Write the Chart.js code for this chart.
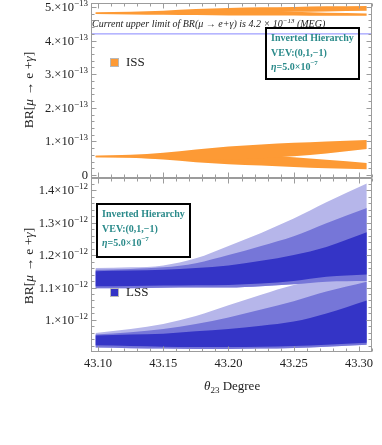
<!DOCTYPE html>
<html>
<head>
<meta charset="utf-8">
<script src="https://cdn.jsdelivr.net/npm/chart.js@4.4.0/dist/chart.umd.min.js"></script>
<style>
    html, body { margin: 0; padding: 0; background: #fff; }
    #wrap { position: relative; width: 382px; height: 445px; }
    canvas { position: absolute; left: 0; top: 0; }
</style>
</head>
<body>
<div id="wrap">
    <canvas id="issChart" width="382" height="445"></canvas>
    <canvas id="lssChart" width="382" height="445"></canvas>
</div>
<script>
// theta_23 sample points (degrees) where the band edges were read
const thetaGrid = [43.098, 43.125, 43.15, 43.175, 43.20, 43.225, 43.25, 43.275, 43.306];

// ISS, BR in units of 1e-13
const issTopUpperHi = [4.84, 4.86, 4.89, 4.94, 4.97, 4.99, 5.00, 5.02, 5.03];
const issTopUpperLo = [4.80, 4.80, 4.80, 4.82, 4.84, 4.85, 4.86, 4.87, 4.89];
const issTopLowerHi = [4.84, 4.84, 4.84, 4.86, 4.88, 4.88, 4.86, 4.83, 4.81];
const issTopLowerLo = [4.79, 4.78, 4.77, 4.76, 4.75, 4.75, 4.75, 4.74, 4.74];
const issLowUpperHi = [0.57, 0.60, 0.66, 0.76, 0.85, 0.91, 0.96, 1.00, 1.04];
const issLowUpperLo = [0.53, 0.52, 0.48, 0.45, 0.46, 0.50, 0.56, 0.64, 0.77];
const issLowLowerHi = [0.57, 0.57, 0.58, 0.60, 0.60, 0.58, 0.53, 0.45, 0.36];
const issLowLowerLo = [0.53, 0.51, 0.46, 0.38, 0.32, 0.28, 0.24, 0.20, 0.17];
const megLimit = 4.2;

// LSS, BR in units of 1e-12
const lssUpperCoreHi  = [1.150, 1.152, 1.155, 1.160, 1.168, 1.182, 1.200, 1.225, 1.270];
const lssUpperCoreLo  = [1.104, 1.105, 1.106, 1.107, 1.108, 1.112, 1.120, 1.133, 1.140];
const lssUpperMidHi   = [1.155, 1.157, 1.162, 1.175, 1.200, 1.228, 1.258, 1.298, 1.345];
const lssUpperCloudHi = [1.160, 1.162, 1.168, 1.190, 1.228, 1.268, 1.312, 1.362, 1.420];
const lssUpperCloudLo = [1.098, 1.098, 1.099, 1.100, 1.100, 1.104, 1.110, 1.118, 1.120];
const lssLowerCoreHi  = [0.952, 0.955, 0.958, 0.965, 0.972, 0.982, 0.995, 1.020, 1.060];
const lssLowerCoreLo  = [0.922, 0.920, 0.918, 0.917, 0.917, 0.918, 0.920, 0.924, 0.930];
const lssLowerMidHi   = [0.955, 0.962, 0.972, 0.988, 1.008, 1.032, 1.058, 1.088, 1.118];
const lssLowerCloudHi = [0.960, 0.972, 0.988, 1.012, 1.045, 1.078, 1.108, 1.126, 1.140];
const lssLowerCloudLo = [0.915, 0.913, 0.912, 0.911, 0.911, 0.912, 0.914, 0.918, 0.924];

// tick labels
const xTicks = [43.10, 43.15, 43.20, 43.25, 43.30];
const issTicks = [0, 1, 2, 3, 4, 5];
const lssTicks = [1.0, 1.1, 1.2, 1.3, 1.4];

const SERIF = '"Liberation Serif", "DejaVu Serif", serif';
const ORANGE = '#fd9a35';
const BLUE = '#3434c6';
const BLUE_MID = 'rgb(118, 118, 216)';
const BLUE_CLOUD = 'rgb(182, 182, 234)';
const TEAL = '#2a8a8a';
const X_MIN = 43.0946, X_MAX = 43.310;

const pts = (ys) => ys.map((y, i) => ({ x: thetaGrid[i], y }));

const band = (lo, hi, color) => [
    { data: pts(lo), borderWidth: 0, borderColor: 'transparent', pointRadius: 0, fill: false, cubicInterpolationMode: 'monotone' },
    { data: pts(hi), borderWidth: 0, borderColor: 'transparent', pointRadius: 0, fill: '-1', backgroundColor: color, cubicInterpolationMode: 'monotone' },
];

// text in several runs (italic greek, superscripts...)
function runsWidth(ctx, runs) {
    let w = 0;
    runs.forEach(r => { ctx.font = r.font; w += ctx.measureText(r.t).width; });
    return w;
}
function drawRuns(ctx, runs, x, y) {
    let cx = x;
    runs.forEach(r => {
        ctx.font = r.font;
        ctx.fillText(r.t, cx, y + (r.dy || 0));
        cx += ctx.measureText(r.t).width;
    });
    return cx - x;
}
const f = (size, style = '') => `${style} ${size}px ${SERIF}`;

function sciRuns(mant, exp) {
    return [
        { t: mant + '\u00d710', font: f(12.5) },
        { t: '\u2212' + exp, font: f(9), dy: -5 },
    ];
}

function drawYTitle(ctx, cx, cy) {
    const runs = [
        { t: 'BR[', font: f(13.5) },
        { t: '\u03bc', font: f(13.5, 'italic') },
        { t: ' \u2192 e +', font: f(13.5) },
        { t: '\u03b3', font: f(13.5, 'italic') },
        { t: ']', font: f(13.5) },
    ];
    ctx.save();
    ctx.translate(cx, cy);
    ctx.rotate(-Math.PI / 2);
    drawRuns(ctx, runs, -runsWidth(ctx, runs) / 2, 4.5);
    ctx.restore();
}

function drawInfoBox(ctx, x, y, w, h) {
    ctx.save();
    ctx.strokeStyle = '#000';
    ctx.lineWidth = 2;
    ctx.strokeRect(x, y, w, h);
    ctx.fillStyle = TEAL;
    ctx.textBaseline = 'alphabetic';
    drawRuns(ctx, [{ t: 'Inverted Hierarchy', font: f(10, 'bold') }], x + 5, y + 13);
    drawRuns(ctx, [{ t: 'VEV:(0,1,\u22121)', font: f(10, 'bold') }], x + 5, y + 28);
    drawRuns(ctx, [
        { t: '\u03b7', font: f(10, 'italic bold') },
        { t: '=5.0\u00d710', font: f(10, 'bold') },
        { t: '\u22127', font: f(7, 'bold'), dy: -5 },
    ], x + 5, y + 42);
    ctx.restore();
}

function drawLegendKey(ctx, x, y, color, label) {
    ctx.save();
    ctx.fillStyle = color;
    ctx.fillRect(x, y, 7, 7);
    ctx.strokeStyle = '#b8b8b8';
    ctx.lineWidth = 1;
    ctx.strokeRect(x - 0.5, y - 0.5, 8, 8);
    ctx.fillStyle = '#222';
    ctx.font = f(13);
    ctx.textBaseline = 'middle';
    ctx.fillText(label, x + 15, y + 4);
    ctx.restore();
}

// frame with inward ticks on all four sides, Mathematica style
const framePlugin = {
    id: 'frame',
    afterDatasetsDraw(chart, args, opts) {
        const { ctx, chartArea: a, scales } = chart;
        const L = Math.round(a.left) + 0.5, R = Math.round(a.right) - 0.5;
        const T = Math.round(a.top) + 0.5, B = Math.round(a.bottom) - 0.5;
        ctx.save();
        ctx.strokeStyle = '#9c9c9c';
        ctx.lineWidth = 1;
        ctx.beginPath();
        // x ticks
        for (let i = Math.ceil(X_MIN / 0.01); i * 0.01 <= X_MAX; i++) {
            const px = Math.round(scales.x.getPixelForValue(i * 0.01)) + 0.5;
            const len = i % 5 === 0 ? 5 : 3;
            ctx.moveTo(px, B); ctx.lineTo(px, B - len);
            ctx.moveTo(px, T); ctx.lineTo(px, T + len);
        }
        // y ticks
        const s = opts.yStep;
        for (let i = Math.ceil(scales.y.min / s); i * s <= scales.y.max; i++) {
            const py = Math.round(scales.y.getPixelForValue(i * s)) + 0.5;
            const len = i % 5 === 0 ? 5 : 3;
            ctx.moveTo(L, py); ctx.lineTo(L + len, py);
            ctx.moveTo(R, py); ctx.lineTo(R - len, py);
        }
        ctx.stroke();
        ctx.strokeRect(L, T, R - L, B - T);
        ctx.restore();
    },
};

const issDecor = {
    id: 'issDecor',
    afterDraw(chart) {
        const { ctx, scales } = chart;
        ctx.save();
        ctx.fillStyle = '#222';
        ctx.textBaseline = 'alphabetic';
        issTicks.forEach(v => {
            const py = scales.y.getPixelForValue(v) + 4;
            const runs = v === 0 ? [{ t: '0', font: f(12.5) }] : sciRuns(v + '.', '13');
            drawRuns(ctx, runs, 88 - runsWidth(ctx, runs), py);
        });
        drawYTitle(ctx, 28, 90);
        // MEG note
        ctx.fillStyle = '#222';
        drawRuns(ctx, [
            { t: 'Current upper limit of BR(\u03bc \u2192 e+\u03b3) is 4.2 \u00d7 10', font: f(10, 'italic') },
            { t: '\u221213', font: f(7, 'italic'), dy: -4 },
            { t: ' (MEG)', font: f(10, 'italic') },
        ], 92, 27);
        ctx.restore();
        drawLegendKey(ctx, 111, 59, ORANGE, 'ISS');
        drawInfoBox(ctx, 266, 28, 93, 51);
    },
};

const lssDecor = {
    id: 'lssDecor',
    afterDraw(chart) {
        const { ctx, scales } = chart;
        ctx.save();
        ctx.fillStyle = '#222';
        ctx.textBaseline = 'alphabetic';
        lssTicks.forEach(v => {
            const py = scales.y.getPixelForValue(v) + 4;
            const mant = v === 1 ? '1.' : v.toFixed(1);
            const runs = sciRuns(mant, '12');
            drawRuns(ctx, runs, 88 - runsWidth(ctx, runs), py);
        });
        ctx.textAlign = 'center';
        ctx.font = f(12.5);
        xTicks.forEach(v => {
            ctx.fillText(v.toFixed(2), scales.x.getPixelForValue(v), 367);
        });
        ctx.textAlign = 'left';
        drawRuns(ctx, [
            { t: '\u03b8', font: f(13, 'italic') },
            { t: '23', font: f(9), dy: 3 },
            { t: ' Degree', font: f(13) },
        ], 204, 390);
        drawYTitle(ctx, 28, 266);
        ctx.restore();
        drawLegendKey(ctx, 111, 289, BLUE, 'LSS');
        drawInfoBox(ctx, 97, 204, 93, 53);
    },
};

const baseOptions = (padding, yMin, yMax, yStep) => ({
    responsive: false,
    animation: false,
    devicePixelRatio: 1,
    events: [],
    layout: { padding },
    plugins: {
        legend: { display: false },
        tooltip: { enabled: false },
        frame: { yStep },
    },
    scales: {
        x: { type: 'linear', min: X_MIN, max: X_MAX, display: false },
        y: { type: 'linear', min: yMin, max: yMax, display: false },
    },
});

new Chart(document.getElementById('issChart'), {
    type: 'line',
    data: {
        datasets: [
            { data: [{ x: X_MIN, y: megLimit }, { x: X_MAX, y: megLimit }], borderColor: '#8888ff', borderWidth: 1, pointRadius: 0, fill: false },
            ...band(issTopUpperLo, issTopUpperHi, ORANGE),
            ...band(issTopLowerLo, issTopLowerHi, ORANGE),
            ...band(issLowUpperLo, issLowUpperHi, ORANGE),
            ...band(issLowLowerLo, issLowLowerHi, ORANGE),
        ],
    },
    options: baseOptions({ left: 91, right: 10, top: 3, bottom: 267 }, -0.09, 5.12, 0.2),
    plugins: [framePlugin, issDecor],
});

// datasets listed first are painted last, so the dense cores come first
new Chart(document.getElementById('lssChart'), {
    type: 'line',
    data: {
        datasets: [
            ...band(lssUpperCoreLo, lssUpperCoreHi, BLUE),
            ...band(lssLowerCoreLo, lssLowerCoreHi, BLUE),
            ...band(lssUpperCloudLo, lssUpperMidHi, BLUE_MID),
            ...band(lssLowerCloudLo, lssLowerMidHi, BLUE_MID),
            ...band(lssUpperCloudLo, lssUpperCloudHi, BLUE_CLOUD),
            ...band(lssLowerCloudLo, lssLowerCloudHi, BLUE_CLOUD),
        ],
    },
    options: baseOptions({ left: 91, right: 10, top: 178, bottom: 93 }, 0.9015, 1.437, 0.02),
    plugins: [framePlugin, lssDecor],
});
</script>
</body>
</html>
